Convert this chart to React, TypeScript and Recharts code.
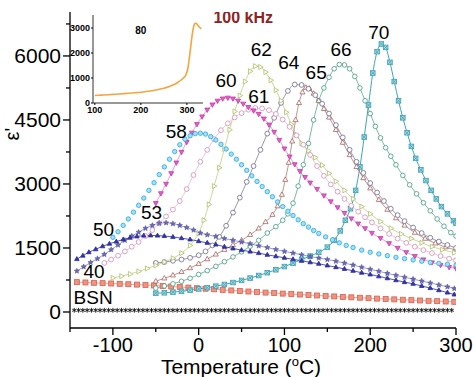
import React from 'react';
import { LineChart, Line, XAxis, YAxis } from 'recharts';

const FONT = '"Liberation Sans", Arial, Helvetica, sans-serif';

// ---------- data (temperature °C, permittivity) ----------
const bsn = [[-145,40],[-140,40],[-135,40],[-130,40],[-125,40],[-120,40],[-115,40],[-110,40],[-105,40],[-100,40],[-95,40],[-90,40],[-85,40],[-80,40],[-75,40],[-70,40],[-65,40],[-60,40],[-55,40],[-50,40],[-45,40],[-40,40],[-35,40],[-30,40],[-25,40],[-20,40],[-15,40],[-10,40],[-5,40],[0,40],[5,40],[10,40],[15,40],[20,40],[25,40],[30,40],[35,40],[40,40],[45,40],[50,40],[55,40],[60,40],[65,40],[70,40],[75,40],[80,40],[85,40],[90,40],[95,40],[100,40],[105,40],[110,40],[115,40],[120,40],[125,40],[130,40],[135,40],[140,40],[145,40],[150,40],[155,40],[160,40],[165,40],[170,40],[175,40],[180,40],[185,40],[190,40],[195,40],[200,40],[205,40],[210,40],[215,40],[220,40],[225,40],[230,40],[235,40],[240,40],[245,40],[250,40],[255,40],[260,40],[265,40],[270,40],[275,40],[280,40],[285,40],[290,40],[295,40]];

const s40 = [[-142,700],[-132,692],[-122,684],[-112,676],[-102,668],[-92,660],[-82,651],[-72,642],[-62,632],[-52,622],[-42,610],[-32,598],[-22,586],[-12,572],[-2,558],[8,545],[18,532],[28,519],[38,506],[48,493],[58,480],[68,467],[78,455],[88,443],[98,431],[108,420],[118,409],[128,398],[138,387],[148,376],[158,365],[168,354],[178,344],[188,334],[198,324],[208,314],[218,305],[228,296],[238,287],[248,278],[258,270],[268,262],[278,254],[288,246],[298,238]];

const s50 = [[-142,1240],[-135,1320],[-128,1400],[-120,1470],[-112,1540],[-104,1600],[-96,1650],[-88,1700],[-80,1740],[-72,1770],[-64,1790],[-56,1795],[-48,1790],[-40,1780],[-30,1760],[-20,1730],[-10,1700],[0,1660],[10,1620],[20,1580],[30,1530],[40,1490],[50,1450],[60,1415],[70,1380],[80,1340],[90,1305],[100,1270],[110,1235],[120,1200],[130,1165],[140,1130],[150,1090],[160,1050],[170,1010],[180,965],[190,920],[200,880],[210,835],[220,790],[230,745],[240,700],[250,660],[260,610],[270,560],[280,510],[290,455],[298,410]];

const s53 = [[-142,960],[-134,1060],[-126,1160],[-118,1250],[-110,1350],[-102,1460],[-94,1570],[-86,1680],[-78,1780],[-70,1870],[-62,1960],[-54,2030],[-46,2080],[-38,2090],[-30,2070],[-22,2030],[-14,1980],[-6,1920],[2,1850],[10,1810],[20,1770],[30,1720],[40,1680],[50,1640],[60,1600],[70,1550],[80,1510],[90,1465],[100,1420],[110,1380],[120,1340],[130,1300],[140,1265],[150,1230],[160,1190],[170,1145],[180,1100],[190,1050],[200,1000],[210,955],[220,905],[230,860],[240,815],[250,770],[260,725],[270,680],[280,635],[290,590],[298,550]];

const s58 = [[-100,1750],[-94,1880],[-88,2030],[-82,2180],[-76,2340],[-70,2500],[-64,2670],[-58,2850],[-52,3030],[-46,3220],[-40,3400],[-34,3580],[-28,3760],[-22,3920],[-16,4050],[-10,4130],[-4,4180],[2,4190],[8,4170],[14,4110],[20,4030],[26,3930],[32,3820],[38,3700],[44,3580],[50,3450],[56,3320],[62,3190],[68,3060],[74,2940],[80,2820],[86,2700],[92,2580],[98,2470],[104,2360],[110,2260],[116,2160],[122,2070],[128,1990],[134,1910],[140,1840],[148,1760],[156,1690],[164,1620],[172,1560],[180,1510],[190,1450],[200,1400],[210,1360],[220,1320],[230,1280],[240,1250],[250,1220],[260,1190],[270,1160],[280,1140],[290,1120],[300,1100]];

const s60 = [[-50,2550],[-44,2780],[-38,3000],[-32,3250],[-26,3500],[-20,3750],[-14,3980],[-8,4200],[-2,4400],[4,4580],[10,4740],[16,4860],[22,4950],[28,5000],[34,5020],[40,5000],[46,4950],[52,4880],[58,4800],[64,4720],[70,4640],[76,4530],[82,4390],[88,4220],[94,4030],[100,3830],[106,3640],[112,3460],[118,3300],[124,3160],[130,3030],[138,2880],[146,2730],[154,2590],[162,2450],[170,2320],[178,2190],[186,2070],[194,1960],[202,1850],[212,1730],[222,1610],[232,1500],[242,1400],[252,1310],[262,1230],[272,1160],[282,1100],[292,1050],[300,1020]];

const s61 = [[-110,1150],[-102,1230],[-94,1320],[-86,1420],[-78,1530],[-70,1640],[-62,1780],[-54,1920],[-46,2080],[-38,2240],[-30,2400],[-22,2600],[-14,2880],[-6,3210],[2,3520],[10,3800],[18,4050],[26,4260],[34,4420],[42,4560],[50,4660],[58,4740],[66,4780],[74,4770],[82,4730],[90,4640],[98,4510],[106,4340],[114,4140],[122,3920],[130,3680],[138,3420],[146,3190],[154,2990],[162,2820],[170,2650],[178,2490],[186,2350],[194,2220],[202,2100],[212,1960],[222,1830],[232,1720],[242,1620],[252,1530],[262,1450],[272,1380],[282,1310],[292,1250],[300,1210]];

const s62 = [[-100,800],[-90,840],[-80,890],[-70,950],[-60,1020],[-50,1090],[-40,1170],[-30,1260],[-20,1380],[-10,1560],[0,1850],[6,2150],[12,2520],[18,2950],[24,3380],[30,3820],[36,4270],[42,4700],[48,5070],[54,5400],[60,5640],[66,5760],[72,5740],[78,5620],[84,5430],[90,5200],[96,4950],[102,4680],[108,4400],[114,4150],[120,3950],[128,3780],[136,3620],[144,3440],[152,3250],[160,3060],[170,2850],[180,2650],[190,2470],[200,2300],[212,2120],[224,1960],[236,1830],[248,1720],[260,1620],[272,1530],[284,1460],[298,1390]];

const s64 = [[-50,1150],[-40,1170],[-30,1200],[-20,1230],[-10,1270],[0,1330],[8,1420],[16,1560],[24,1760],[32,2020],[40,2330],[48,2680],[56,3050],[64,3420],[72,3800],[80,4180],[88,4550],[96,4900],[104,5180],[112,5330],[120,5320],[128,5230],[136,5080],[144,4880],[152,4650],[160,4380],[168,4090],[176,3800],[184,3520],[192,3260],[200,3020],[208,2800],[216,2600],[224,2420],[232,2270],[240,2130],[250,1980],[260,1850],[270,1740],[280,1650],[290,1570],[300,1500]];

const s65 = [[-50,720],[-40,790],[-30,860],[-20,940],[-10,1030],[0,1130],[10,1240],[20,1350],[30,1460],[40,1570],[50,1680],[60,1810],[70,1960],[78,2110],[86,2280],[92,2480],[97,2750],[101,3100],[105,3500],[109,4000],[113,4500],[117,4900],[121,5150],[125,5260],[129,5240],[134,5120],[140,4950],[146,4760],[152,4560],[160,4270],[168,3970],[176,3680],[184,3400],[192,3140],[200,2900],[210,2630],[220,2400],[230,2200],[240,2030],[252,1860],[264,1720],[276,1610],[288,1520],[300,1450]];

const s66 = [[-50,560],[-40,610],[-30,660],[-20,720],[-10,790],[0,880],[10,970],[20,1070],[30,1180],[40,1290],[50,1410],[60,1540],[70,1680],[80,1850],[90,2000],[98,2150],[104,2300],[110,2550],[116,2950],[122,3450],[128,3950],[134,4500],[140,4950],[146,5250],[152,5500],[158,5700],[164,5800],[170,5790],[176,5700],[182,5520],[188,5250],[194,4950],[200,4650],[206,4350],[212,4080],[218,3850],[224,3650],[230,3450],[238,3200],[246,2980],[254,2770],[262,2560],[270,2370],[278,2180],[286,2010],[294,1860],[300,1780]];

const s70 = [[-50,440],[-40,450],[-30,465],[-20,485],[-10,510],[0,540],[10,570],[20,605],[30,645],[40,690],[50,740],[60,795],[70,855],[80,920],[90,990],[100,1065],[110,1145],[120,1230],[130,1310],[140,1400],[150,1520],[158,1680],[165,1900],[171,2150],[177,2420],[183,2850],[188,3400],[193,4100],[198,4850],[203,5600],[208,6100],[213,6280],[218,6200],[223,5850],[228,5400],[233,4950],[238,4550],[243,4200],[248,3880],[253,3600],[259,3330],[265,3080],[271,2850],[277,2650],[283,2470],[290,2300],[297,2140],[300,2080]];

const inset80 = [[100,300],[115,315],[130,330],[145,350],[160,370],[175,390],[190,415],[205,440],[220,480],[235,530],[250,590],[262,660],[272,740],[280,820],[287,910],[293,1010],[298,1130],[302,1380],[305,1750],[308,2200],[311,2650],[314,3000],[317,3170],[320,3190],[323,3130],[327,3040],[331,2960]];

// series labels placed at (temperature, permittivity)
const seriesLabels = [
  { t: -123, e: 330, text: 'BSN' },
  { t: -122, e: 960, text: '40' },
  { t: -111, e: 1940, text: '50' },
  { t: -55, e: 2320, text: '53' },
  { t: -26, e: 4240, text: '58' },
  { t: 32, e: 5430, text: '60' },
  { t: 70, e: 5060, text: '61' },
  { t: 73, e: 6140, text: '62' },
  { t: 105, e: 5850, text: '64' },
  { t: 137, e: 5620, text: '65' },
  { t: 166, e: 6160, text: '66' },
  { t: 210, e: 6560, text: '70' },
];
const freqLabel = [{ t: 52, e: 6900, text: '100 kHz' }];
const insetLabel = [{ t: 200, e: 2920, text: '80' }];

const X_TICKS = [-150, -100, -50, 0, 50, 100, 150, 200, 250, 300];
const X_LABELS = [-100, 0, 100, 200, 300];
const Y_TICKS = [0, 750, 1500, 2250, 3000, 3750, 4500, 5250, 6000, 6750];
const Y_LABELS = [0, 1500, 3000, 4500, 6000];
const INSET_X_TICKS = [100, 200, 300];
const INSET_Y_TICKS = [0, 1000, 2000, 3000];

const rows = (pairs: number[][]) => pairs.map(([t, e]) => ({ t, e }));

// ---------- markers ----------
type Shape = 'asterisk' | 'square' | 'triUp' | 'triDown' | 'triRight' | 'circle' | 'star' | 'crossSquare';

function makeDot(shape: Shape, stroke: string, fill: string, s: number, sw = 0.8) {
  return (p: any) => {
    const { cx, cy, index } = p;
    const k = `d-${index}`;
    if (cx == null || cy == null || isNaN(cx) || isNaN(cy)) return <g key={k} />;
    switch (shape) {
      case 'asterisk':
        return (
          <g key={k} stroke={stroke} strokeWidth={0.9}>
            <line x1={cx} y1={cy - s} x2={cx} y2={cy + s} />
            <line x1={cx - s * 0.87} y1={cy - s * 0.5} x2={cx + s * 0.87} y2={cy + s * 0.5} />
            <line x1={cx - s * 0.87} y1={cy + s * 0.5} x2={cx + s * 0.87} y2={cy - s * 0.5} />
          </g>
        );
      case 'square':
        return <rect key={k} x={cx - s} y={cy - s} width={2 * s} height={2 * s} fill={fill} stroke={stroke} strokeWidth={sw} />;
      case 'triUp':
        return <polygon key={k} points={`${cx},${cy - s} ${cx + s * 0.9},${cy + s * 0.6} ${cx - s * 0.9},${cy + s * 0.6}`} fill={fill} stroke={stroke} strokeWidth={sw} />;
      case 'triDown':
        return <polygon key={k} points={`${cx},${cy + s} ${cx + s * 0.9},${cy - s * 0.6} ${cx - s * 0.9},${cy - s * 0.6}`} fill={fill} stroke={stroke} strokeWidth={sw} />;
      case 'triRight':
        return <polygon key={k} points={`${cx + s},${cy} ${cx - s * 0.6},${cy - s * 0.9} ${cx - s * 0.6},${cy + s * 0.9}`} fill={fill} stroke={stroke} strokeWidth={sw} />;
      case 'circle':
        return <circle key={k} cx={cx} cy={cy} r={s} fill={fill} stroke={stroke} strokeWidth={sw} />;
      case 'star': {
        const pts: string[] = [];
        for (let i = 0; i < 10; i++) {
          const r = i % 2 === 0 ? s : s * 0.45;
          const a = -Math.PI / 2 + (i * Math.PI) / 5;
          pts.push(`${cx + r * Math.cos(a)},${cy + r * Math.sin(a)}`);
        }
        return <polygon key={k} points={pts.join(' ')} fill={fill} stroke={stroke} strokeWidth={0.5} />;
      }
      case 'crossSquare':
        return (
          <g key={k} stroke={stroke} strokeWidth={sw}>
            <rect x={cx - s} y={cy - s} width={2 * s} height={2 * s} fill={fill} />
            <line x1={cx - s} y1={cy - s} x2={cx + s} y2={cy + s} />
            <line x1={cx - s} y1={cy + s} x2={cx + s} y2={cy - s} />
          </g>
        );
    }
    return <g key={k} />;
  };
}

const SERIES = [
  { name: 'BSN', data: bsn, color: '#111111', dot: makeDot('asterisk', '#111111', '#111111', 2.4), line: 0 },
  { name: '40', data: s40, color: '#e06a55', dot: makeDot('square', '#d8604c', '#ef9382', 2.5), line: 0.6 },
  { name: '70', data: s70, color: '#3aa6b8', dot: makeDot('crossSquare', '#3a9fb0', '#a8dbe4', 2.3, 0.8), line: 1 },
  { name: '66', data: s66, color: '#3f9b7c', dot: makeDot('circle', '#3f9b7c', '#ffffff', 2.3), line: 0.7 },
  { name: '65', data: s65, color: '#a8625c', dot: makeDot('triUp', '#a8625c', '#ffffff', 2.8), line: 0.7 },
  { name: '64', data: s64, color: '#6d6a8e', dot: makeDot('circle', '#6d6a8e', '#ffffff', 2.4), line: 0.7 },
  { name: '62', data: s62, color: '#b2c86e', dot: makeDot('triRight', '#a9c064', '#ffffff', 2.8), line: 0.7 },
  { name: '61', data: s61, color: '#d48db3', dot: makeDot('circle', '#d48db3', '#ffffff', 2.4), line: 0.5 },
  { name: '60', data: s60, color: '#d13db0', dot: makeDot('triDown', '#c936a8', '#de63c2', 2.7), line: 0.5 },
  { name: '58', data: s58, color: '#22a9e1', dot: makeDot('circle', '#22a9e1', '#a6e0f7', 2.2), line: 0 },
  { name: '53', data: s53, color: '#5a5aa5', dot: makeDot('star', '#4a4a98', '#6a6ab5', 2.8), line: 0.6 },
  { name: '50', data: s50, color: '#2a2a9a', dot: makeDot('triUp', '#2a2a9a', '#3535b0', 2.5), line: 0.8 },
];

// ---------- axis ticks / titles ----------
const XTick = (p: any) => {
  const { x, y, payload } = p;
  const v = payload.value;
  const major = X_LABELS.includes(v);
  return (
    <g>
      <line x1={x} x2={x} y1={y} y2={y + (major ? 7 : 4)} stroke="#000" strokeWidth={1.3} />
      {major && (
        <text x={x} y={y + 24} textAnchor="middle" fontSize={20} fontFamily={FONT} fill="#000">
          {v}
        </text>
      )}
    </g>
  );
};

const YTick = (p: any) => {
  const { x, y, payload } = p;
  const v = payload.value;
  const major = Y_LABELS.includes(v);
  return (
    <g>
      <line x1={x} x2={x - (major ? 7 : 4)} y1={y} y2={y} stroke="#000" strokeWidth={1.3} />
      {major && (
        <text x={x - 9} y={y + 7} textAnchor="end" fontSize={21} fontFamily={FONT} fill="#000">
          {v}
        </text>
      )}
    </g>
  );
};

const XTitle = (p: any) => {
  const vb = p.viewBox || { x: 70, y: 328, width: 386 };
  const cx = vb.x + vb.width / 2 - 22;
  const by = vb.y + 46;
  return (
    <text x={cx} y={by} textAnchor="middle" fontSize={21} fontFamily={FONT} fill="#000">
      Temperature (<tspan dy={-8} fontSize={13}>o</tspan>
      <tspan dy={8}>C)</tspan>
    </text>
  );
};

const YTitle = (p: any) => {
  const vb = p.viewBox || { x: 0, y: 12 };
  const x = vb.x + 12;
  const y = vb.y + 122;
  return (
    <text x={x} y={y} transform={`rotate(-90 ${x} ${y})`} textAnchor="middle" dominantBaseline="central" fontSize={20} fontFamily={FONT} fill="#000">
      ε'
    </text>
  );
};

const labelDot = (p: any) => {
  const { cx, cy, index, payload } = p;
  if (cx == null || cy == null) return <g key={`l-${index}`} />;
  return (
    <text key={`l-${index}`} x={cx} y={cy} textAnchor="middle" dominantBaseline="central" fontSize={19} fontFamily={FONT} fill="#000">
      {payload.text}
    </text>
  );
};

const freqDot = (p: any) => {
  const { cx, cy, index, payload } = p;
  if (cx == null || cy == null) return <g key={`f-${index}`} />;
  return (
    <text key={`f-${index}`} x={cx} y={cy} textAnchor="middle" dominantBaseline="central" fontSize={16} fontWeight="bold" fontFamily={FONT} fill="#8e2323">
      {payload.text}
    </text>
  );
};

const insetTextDot = (p: any) => {
  const { cx, cy, index, payload } = p;
  if (cx == null || cy == null) return <g key={`i-${index}`} />;
  return (
    <text key={`i-${index}`} x={cx} y={cy} textAnchor="middle" dominantBaseline="central" fontSize={10} fontWeight="bold" fontFamily={FONT} fill="#000">
      {payload.text}
    </text>
  );
};

const InsetXTick = (p: any) => {
  const { x, y, payload } = p;
  return (
    <g>
      <line x1={x} x2={x} y1={y} y2={y + 2} stroke="#000" strokeWidth={1} />
      <text x={x} y={y + 10} textAnchor="middle" fontSize={9} fontWeight="bold" fontFamily={FONT} fill="#000">
        {payload.value}
      </text>
    </g>
  );
};

const InsetYTick = (p: any) => {
  const { x, y, payload } = p;
  return (
    <g>
      <line x1={x} x2={x - 2} y1={y} y2={y} stroke="#000" strokeWidth={1} />
      <text x={x - 3} y={y + 3} textAnchor="end" fontSize={9} fontWeight="bold" fontFamily={FONT} fill="#000">
        {payload.value}
      </text>
    </g>
  );
};

export default function App() {
  return (
    <div style={{ position: 'absolute', left: 0, top: 0, width: 473, height: 377, background: '#fff', overflow: 'hidden' }}>
      <LineChart width={473} height={377} margin={{ top: 12, right: 17, bottom: 0, left: 0 }}>
        <XAxis
          type="number"
          dataKey="t"
          domain={[-150, 300]}
          allowDataOverflow
          ticks={X_TICKS}
          interval={0}
          height={49}
          tickSize={0}
          tickMargin={0}
          tickLine={false}
          tick={<XTick />}
          axisLine={{ stroke: '#000', strokeWidth: 1.3 }}
          label={<XTitle />}
        />
        <XAxis xAxisId="top" orientation="top" type="number" domain={[-150, 300]} height={0} tick={false} tickLine={false} axisLine={{ stroke: '#000', strokeWidth: 1.3 }} />
        <YAxis
          type="number"
          domain={[-375, 7030]}
          allowDataOverflow
          ticks={Y_TICKS}
          interval={0}
          width={70}
          tickSize={0}
          tickMargin={0}
          tickLine={false}
          tick={<YTick />}
          axisLine={{ stroke: '#000', strokeWidth: 1.3 }}
          label={<YTitle />}
        />
        <YAxis yAxisId="right" orientation="right" type="number" domain={[-375, 7030]} width={0} tick={false} tickLine={false} axisLine={{ stroke: '#000', strokeWidth: 1.3 }} />
        {SERIES.map((s) => (
          <Line
            key={s.name}
            data={rows(s.data)}
            dataKey="e"
            type="monotone"
            stroke={s.line > 0 ? s.color : 'none'}
            strokeWidth={s.line}
            dot={s.dot}
            activeDot={false}
            isAnimationActive={false}
            legendType="none"
          />
        ))}
        <Line data={seriesLabels} dataKey="e" stroke="none" dot={labelDot} activeDot={false} isAnimationActive={false} />
        <Line data={freqLabel} dataKey="e" stroke="none" dot={freqDot} activeDot={false} isAnimationActive={false} />
      </LineChart>
      <div style={{ position: 'absolute', left: 66, top: 15 }}>
        <LineChart width={137} height={102} margin={{ top: 0, right: 0, bottom: 0, left: 0 }}>
          <XAxis
            type="number"
            dataKey="t"
            domain={[96, 335]}
            allowDataOverflow
            ticks={INSET_X_TICKS}
            interval={0}
            height={14}
            tickSize={0}
            tickMargin={0}
            tickLine={false}
            tick={<InsetXTick />}
            axisLine={{ stroke: '#333', strokeWidth: 1 }}
          />
          <XAxis xAxisId="top" orientation="top" type="number" domain={[96, 335]} height={0} tick={false} tickLine={false} axisLine={{ stroke: '#555', strokeWidth: 1 }} />
          <YAxis
            type="number"
            domain={[0, 3520]}
            allowDataOverflow
            ticks={INSET_Y_TICKS}
            interval={0}
            width={27}
            tickSize={0}
            tickMargin={0}
            tickLine={false}
            tick={<InsetYTick />}
            axisLine={{ stroke: '#333', strokeWidth: 1 }}
          />
          <YAxis yAxisId="right" orientation="right" type="number" domain={[0, 3520]} width={0} tick={false} tickLine={false} axisLine={{ stroke: '#555', strokeWidth: 1 }} />
          <Line data={rows(inset80)} dataKey="e" type="monotone" stroke="#f5a540" strokeWidth={1.6} dot={false} activeDot={false} isAnimationActive={false} />
          <Line data={insetLabel} dataKey="e" stroke="none" dot={insetTextDot} activeDot={false} isAnimationActive={false} />
        </LineChart>
      </div>
    </div>
  );
}
